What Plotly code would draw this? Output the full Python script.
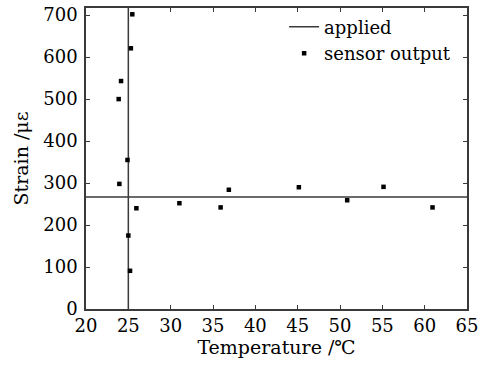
import plotly.graph_objects as go

# sensor output data (temperature in C, strain in microstrain)
temp = [25.47, 25.3, 24.14, 23.86, 24.9, 23.94, 25.95, 25.0, 25.2, 31.03,
        35.9, 36.87, 45.14, 50.85, 55.14, 60.93]
strain = [702, 621, 543, 500, 355, 298, 240, 175, 91, 252,
          242, 284, 290, 259, 291, 242]

applied_strain = 267
applied_temp = 25
x_range = [20, 65]
y_range = [0, 717]

x_ticks = [20, 25, 30, 35, 40, 45, 50, 55, 60, 65]
y_ticks = [0, 100, 200, 300, 400, 500, 600, 700]

font_family = "DejaVu Serif"

fig = go.Figure()
fig.add_trace(go.Scatter(
    x=[x_range[0], x_range[1], None, applied_temp, applied_temp],
    y=[applied_strain, applied_strain, None, y_range[0], y_range[1]],
    mode="lines", name="applied",
    line=dict(color="#3a3a3a", width=1.5),
))
fig.add_trace(go.Scatter(
    x=temp, y=strain, mode="markers", name="sensor output",
    marker=dict(color="black", size=4.5, symbol="square"),
))

axis_common = dict(
    showgrid=False, zeroline=False, showline=True, linecolor="#3a3a3a",
    linewidth=1.5, mirror="ticks", ticks="inside", ticklen=4, automargin=False,
    tickcolor="#3a3a3a", tickfont=dict(family=font_family, size=18, color="black"),
)
fig.update_xaxes(range=x_range, tickvals=x_ticks,
                 title=dict(text="Temperature /℃", standoff=3,
                            font=dict(family=font_family, size=19, color="black")),
                 **axis_common)
fig.update_yaxes(range=y_range, tickvals=y_ticks, ticklabelstandoff=3,
                 title=dict(text="Strain /με", standoff=10,
                            font=dict(family=font_family, size=19, color="black")),
                 **axis_common)

fig.update_layout(
    width=480, height=365,
    margin=dict(l=86, r=13, t=8, b=56, autoexpand=False),
    plot_bgcolor="white", paper_bgcolor="white",
    legend=dict(x=0.52, y=0.998, xanchor="left", yanchor="top",
                bgcolor="rgba(0,0,0,0)",
                font=dict(family=font_family, size=18, color="black"),
                tracegroupgap=0, itemwidth=30),
)
fig.write_html("out.html",
               config={"displayModeBar": False},
               post_script="document.body.style.margin='0';"
                           "document.body.style.overflow='hidden';")
